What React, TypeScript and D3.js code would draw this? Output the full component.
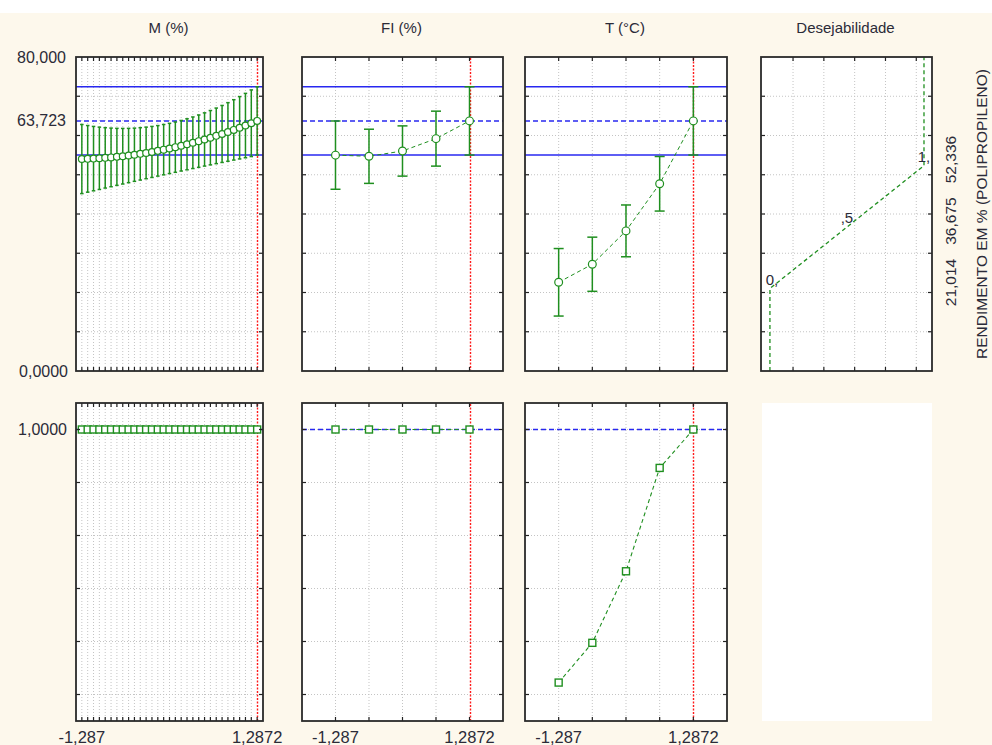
import React from 'react';
import * as d3 from 'd3';

// ---------------- data ----------------
const factorTitles = ['M (%)', 'FI (%)', 'T (°C)', 'Desejabilidade'];
const levelsM = [-1.287, -1.2012, -1.1154, -1.0296, -0.9438, -0.858, -0.7722, -0.6864, -0.6006, -0.5148, -0.429, -0.3432, -0.2574, -0.1716, -0.0858, 0, 0.0858, 0.1716, 0.2574, 0.3432, 0.429, 0.5148, 0.6006, 0.6864, 0.7722, 0.858, 0.9438, 1.0296, 1.1154, 1.2012, 1.2872];
const predM = [54.0, 54.05, 54.11, 54.19, 54.3, 54.42, 54.56, 54.72, 54.9, 55.1, 55.32, 55.56, 55.81, 56.09, 56.39, 56.7, 57.03, 57.39, 57.76, 58.15, 58.56, 58.99, 59.44, 59.91, 60.39, 60.9, 61.43, 61.97, 62.53, 63.12, 63.723];
const ciM = [8.8, 8.49, 8.2, 7.94, 7.69, 7.47, 7.26, 7.08, 6.92, 6.78, 6.67, 6.57, 6.5, 6.44, 6.41, 6.4, 6.41, 6.44, 6.5, 6.57, 6.67, 6.78, 6.92, 7.08, 7.26, 7.47, 7.69, 7.94, 8.2, 8.49, 8.7];
const desM = [1, 1, 1, 1, 1, 1, 1, 1, 1, 1, 1, 1, 1, 1, 1, 1, 1, 1, 1, 1, 1, 1, 1, 1, 1, 1, 1, 1, 1, 1, 1];

const levelsFI = [-1.287, -0.6436, 0, 0.6436, 1.2872];
const predFI = [55.0, 54.7, 56.05, 59.2, 63.723];
const ciFI = [8.7, 6.9, 6.4, 7.0, 8.7];
const desFI = [1, 1, 1, 1, 1];

const levelsT = [-1.287, -0.6436, 0, 0.6436, 1.2872];
const predT = [22.6, 27.2, 35.7, 47.7, 63.723];
const ciT = [8.6, 6.9, 6.6, 6.95, 8.7];
const desT = [0.045, 0.195, 0.465, 0.855, 1];

const currentPred = 63.723;
const currentLow = 55.02;
const currentHigh = 72.42;

const desY = [21.014, 36.675, 52.336];
const desD = [0, 0.5, 1];
const desLabels = ['0,', ',5', '1,'];
const desYLabels = ['21,014', '36,675', '52,336'];

const topGrid = [10, 20, 30, 40, 50, 60, 70];
const botGrid = [0, 0.2, 0.4, 0.6, 0.8, 1.0];
const desXGrid = [0.15, 0.35, 0.55, 0.75, 0.95];

const xTickLabels = ['-1,287', '1,2872'];
const yAxisTitle = 'RENDIMENTO EM % (POLIPROPILENO)';

// ---------------- layout ----------------
const W = 992, H = 745;
const TOP0 = 57, TOP1 = 371, BOT0 = 403, BOT1 = 721;
const COLS = [
  { x0: 76, x1: 263 },
  { x0: 302, x1: 503 },
  { x0: 525, x1: 727 },
  { x0: 761, x1: 932 },
];
const GREEN = '#1f8f1f';
const BLUE = '#2828f0';
const RED = '#ff1a1a';
const GRID = '#c4c4c4';
const TEXT = '#2b2b38';
const FONT = "'Liberation Sans', Arial, sans-serif";

const yTop = d3.scaleLinear().domain([0, 80]).range([TOP1, TOP0]);
const yBot = d3.scaleLinear().domain([-0.1, 1.1]).range([BOT1, BOT0]);

function Ticks({ x0, x1, y0, y1, xs, ys }: any) {
  const L = 4;
  return (
    <g stroke="#222" strokeWidth={1.2}>
      {ys.map((y: number, i: number) => (
        <g key={'y' + i}>
          <line x1={x0} x2={x0 + L} y1={y} y2={y} />
          <line x1={x1 - L} x2={x1} y1={y} y2={y} />
        </g>
      ))}
      {xs.map((x: number, i: number) => (
        <g key={'x' + i}>
          <line x1={x} x2={x} y1={y0} y2={y0 + L} />
          <line x1={x} x2={x} y1={y1 - L} y2={y1} />
        </g>
      ))}
    </g>
  );
}

function RedLine({ x, y0, y1 }: any) {
  const xx = Math.round(x) + 0.5;
  return <line x1={xx} x2={xx} y1={y0 + 1} y2={y1 - 1} stroke={RED} strokeWidth={1.4} strokeDasharray="2,1.5" />;
}

function FactorTop({ col, levels, pred, ci }: any) {
  const { x0, x1 } = col;
  const step = levels[1] - levels[0];
  const x = d3.scaleLinear().domain([levels[0] - step, levels[levels.length - 1] + step]).range([x0, x1]);
  const pxStep = x(levels[1]) - x(levels[0]);
  const cap = Math.min(5, pxStep * 0.3);
  const line = d3.line<number>().x((_, i) => x(levels[i])).y((d) => yTop(d));
  const lastX = x(levels[levels.length - 1]);
  const r = levels.length > 10 ? 3.4 : 3.9;
  return (
    <g>
      <rect x={x0} y={TOP0} width={x1 - x0} height={TOP1 - TOP0} fill="#fff" />
      <g stroke={GRID} strokeWidth={1} strokeDasharray="1,2">
        {levels.slice(0, -1).map((l: number, i: number) => (
          <line key={i} x1={x(l)} x2={x(l)} y1={TOP0} y2={TOP1} />
        ))}
        {topGrid.map((g, i) => (
          <line key={'h' + i} x1={x0} x2={x1} y1={yTop(g)} y2={yTop(g)} />
        ))}
      </g>
      <RedLine x={lastX} y0={TOP0} y1={TOP1} />
      <line x1={x0} x2={x1} y1={yTop(currentHigh)} y2={yTop(currentHigh)} stroke={BLUE} strokeWidth={1.6} />
      <line x1={x0} x2={x1} y1={yTop(currentLow)} y2={yTop(currentLow)} stroke={BLUE} strokeWidth={1.6} />
      <line x1={x0} x2={x1} y1={yTop(currentPred)} y2={yTop(currentPred)} stroke={BLUE} strokeWidth={1.5} strokeDasharray="5,3" />
      <path d={line(pred) || ''} fill="none" stroke={GREEN} strokeWidth={1} strokeDasharray="4,3" />
      <g stroke={GREEN} strokeWidth={1.5}>
        {levels.map((l: number, i: number) => {
          const cx = x(l);
          const hi = yTop(pred[i] + ci[i]);
          const lo = yTop(pred[i] - ci[i]);
          return (
            <g key={i}>
              <line x1={cx} x2={cx} y1={hi} y2={lo} />
              <line x1={cx - cap} x2={cx + cap} y1={hi} y2={hi} />
              <line x1={cx - cap} x2={cx + cap} y1={lo} y2={lo} />
            </g>
          );
        })}
      </g>
      <g stroke={GREEN} strokeWidth={1.2} fill="#fff">
        {levels.map((l: number, i: number) => (
          <circle key={i} cx={x(l)} cy={yTop(pred[i])} r={r} />
        ))}
      </g>
      <Ticks x0={x0} x1={x1} y0={TOP0} y1={TOP1} xs={levels.map((l: number) => x(l))} ys={topGrid.map((g) => yTop(g))} />
      <rect x={x0} y={TOP0} width={x1 - x0} height={TOP1 - TOP0} fill="none" stroke="#2a2a2a" strokeWidth={1.8} />
    </g>
  );
}

function FactorBottom({ col, levels, des, labels }: any) {
  const { x0, x1 } = col;
  const step = levels[1] - levels[0];
  const x = d3.scaleLinear().domain([levels[0] - step, levels[levels.length - 1] + step]).range([x0, x1]);
  const line = d3.line<number>().x((_, i) => x(levels[i])).y((d) => yBot(d));
  const lastX = x(levels[levels.length - 1]);
  const s = 7;
  return (
    <g>
      <rect x={x0} y={BOT0} width={x1 - x0} height={BOT1 - BOT0} fill="#fff" />
      <g stroke={GRID} strokeWidth={1} strokeDasharray="1,2">
        {levels.slice(0, -1).map((l: number, i: number) => (
          <line key={i} x1={x(l)} x2={x(l)} y1={BOT0} y2={BOT1} />
        ))}
        {botGrid.map((g, i) => (
          <line key={'h' + i} x1={x0} x2={x1} y1={yBot(g)} y2={yBot(g)} />
        ))}
      </g>
      <RedLine x={lastX} y0={BOT0} y1={BOT1} />
      <line x1={x0} x2={x1} y1={yBot(1)} y2={yBot(1)} stroke={BLUE} strokeWidth={1.4} strokeDasharray="5,3" />
      <path d={line(des) || ''} fill="none" stroke={GREEN} strokeWidth={1.1} strokeDasharray="4,3" />
      <g stroke={GREEN} strokeWidth={1.4} fill="#fff">
        {levels.map((l: number, i: number) => (
          <rect key={i} x={x(l) - s / 2} y={yBot(des[i]) - s / 2} width={s} height={s} />
        ))}
      </g>
      <Ticks x0={x0} x1={x1} y0={BOT0} y1={BOT1} xs={levels.map((l: number) => x(l))} ys={botGrid.map((g) => yBot(g))} />
      <rect x={x0} y={BOT0} width={x1 - x0} height={BOT1 - BOT0} fill="none" stroke="#2a2a2a" strokeWidth={1.8} />
      <text x={x(levels[0])} y={743} textAnchor="middle" fontSize={16.5} fill={TEXT}>{labels[0]}</text>
      <text x={lastX} y={743} textAnchor="middle" fontSize={16.5} fill={TEXT}>{labels[1]}</text>
    </g>
  );
}

function DesirabilityTop({ col }: any) {
  const { x0, x1 } = col;
  const x = d3.scaleLinear().domain([-0.058, 1.052]).range([x0, x1]);
  const pts: [number, number][] = [
    [desD[0], 0],
    ...desD.map((d, i) => [d, desY[i]] as [number, number]),
    [desD[desD.length - 1], 80],
  ];
  const line = d3.line<[number, number]>().x((p) => x(p[0])).y((p) => yTop(p[1]));
  return (
    <g>
      <rect x={x0} y={TOP0} width={x1 - x0} height={TOP1 - TOP0} fill="#fff" />
      <g stroke={GRID} strokeWidth={1} strokeDasharray="1,2">
        {desXGrid.map((g, i) => (
          <line key={i} x1={x(g)} x2={x(g)} y1={TOP0} y2={TOP1} />
        ))}
        {topGrid.map((g, i) => (
          <line key={'h' + i} x1={x0} x2={x1} y1={yTop(g)} y2={yTop(g)} />
        ))}
      </g>
      <path d={line(pts) || ''} fill="none" stroke={GREEN} strokeWidth={1.3} strokeDasharray="4,3" />
      {desD.map((d, i) => (
        <text key={i} x={x(d) + (i === 0 ? 2 : 0)} y={yTop(desY[i]) - 4} textAnchor="middle" fontSize={15} fill={TEXT}>{desLabels[i]}</text>
      ))}
      <Ticks x0={x0} x1={x1} y0={TOP0} y1={TOP1} xs={desXGrid.map((g) => x(g))} ys={topGrid.map((g) => yTop(g))} />
      <rect x={x0} y={TOP0} width={x1 - x0} height={TOP1 - TOP0} fill="none" stroke="#2a2a2a" strokeWidth={1.8} />
      {desY.map((v, i) => (
        <text key={'r' + i} transform={`translate(${956},${yTop(v) - 6}) rotate(-90)`} textAnchor="middle" fontSize={15.5} fill={TEXT}>{desYLabels[i]}</text>
      ))}
      <text transform={`translate(${987},${(TOP0 + TOP1) / 2}) rotate(-90)`} textAnchor="middle" fontSize={15.5} fill={TEXT}>{yAxisTitle}</text>
    </g>
  );
}

export default function App() {
  React.useEffect(() => {
    document.body.style.margin = '0';
  }, []);
  return (
    <svg width={W} height={H} style={{ position: 'absolute', left: 0, top: 0, display: 'block' }} fontFamily={FONT}>
      <rect x={0} y={0} width={W} height={H} fill="#fff" />
      <rect x={0} y={13} width={W} height={H - 13} fill="#fdf8ec" />
      {factorTitles.map((t, i) => (
        <text key={i} x={(COLS[i].x0 + COLS[i].x1) / 2 - 1} y={33} textAnchor="middle" fontSize={15} fill={TEXT}>{t}</text>
      ))}
      <text x={66} y={yTop(80) + 5.5} textAnchor="end" fontSize={16} fill={TEXT}>80,000</text>
      <text x={66} y={yTop(currentPred) + 5.5} textAnchor="end" fontSize={16} fill={TEXT}>63,723</text>
      <text x={68} y={yTop(0) + 5.5} textAnchor="end" fontSize={16} fill={TEXT}>0,0000</text>
      <text x={67} y={yBot(1) + 5.5} textAnchor="end" fontSize={16} fill={TEXT}>1,0000</text>

      <FactorTop col={COLS[0]} levels={levelsM} pred={predM} ci={ciM} />
      <FactorTop col={COLS[1]} levels={levelsFI} pred={predFI} ci={ciFI} />
      <FactorTop col={COLS[2]} levels={levelsT} pred={predT} ci={ciT} />
      <DesirabilityTop col={COLS[3]} />

      <FactorBottom col={COLS[0]} levels={levelsM} des={desM} labels={xTickLabels} />
      <FactorBottom col={COLS[1]} levels={levelsFI} des={desFI} labels={xTickLabels} />
      <FactorBottom col={COLS[2]} levels={levelsT} des={desT} labels={xTickLabels} />
      <rect x={COLS[3].x0 + 1} y={BOT0} width={COLS[3].x1 - COLS[3].x0 - 1} height={BOT1 - BOT0} fill="#fff" />
    </svg>
  );
}
